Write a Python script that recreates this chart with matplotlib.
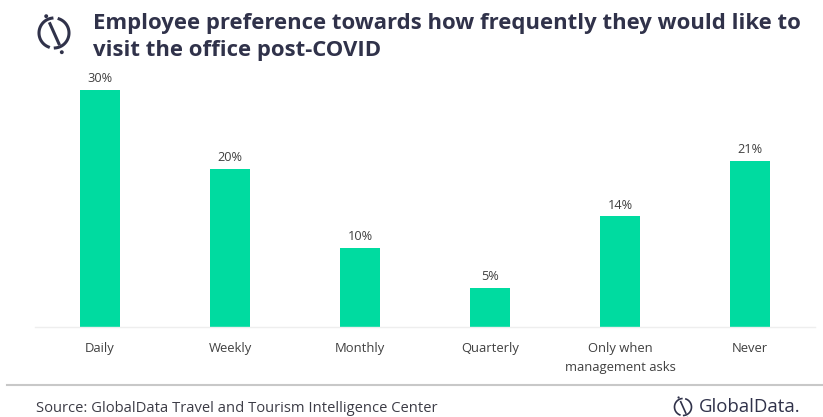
import numpy as np
import matplotlib
matplotlib.use('Agg')
import matplotlib.pyplot as plt
from matplotlib.patches import Circle

categories = ['Daily', 'Weekly', 'Monthly', 'Quarterly', 'Only when\nmanagement asks', 'Never']
values = [30, 20, 10, 5, 14, 21]

W, H = 823, 417
dark = '#30324a'
green = '#00dba0'
plt.rcParams['font.family'] = ['Open Sans', 'DejaVu Sans']

fig = plt.figure(figsize=(W / 100, H / 100), dpi=100)

# overlay in pixel coords for title, rule, footer, logos
bg = fig.add_axes([0, 0, 1, 1])
bg.set_xlim(0, W)
bg.set_ylim(H, 0)
bg.axis('off')


def logo(cx, cy, r, lw):
    # ring in two halves, gaps where the slash passes through
    for a, b in [(-70, 85), (112, 262)]:
        t = np.radians(np.linspace(a, b, 60))
        bg.plot(cx + r * np.cos(t), cy + r * np.sin(t), color=dark, lw=lw)
    bg.plot([cx - 0.27 * r, cx + 0.33 * r], [cy - 0.62 * r, cy + 0.72 * r], color=dark, lw=lw)
    bg.add_patch(Circle((cx - 0.52 * r, cy - 1.12 * r), 0.13 * r, color=dark, lw=0))
    bg.add_patch(Circle((cx + 0.52 * r, cy + 1.28 * r), 0.13 * r, color=dark, lw=0))


logo(54, 33, 15, 2.2)
logo(683, 407, 8.5, 1.2)

bg.text(93, 23, 'Employee preference towards how frequently they would like to',
        fontsize=15.95, fontweight='bold', color=dark, ha='left', va='center')
bg.text(93, 50, 'visit the office post-COVID',
        fontsize=15.95, fontweight='bold', color=dark, ha='left', va='center')

bg.plot([7, W], [385, 385], color='#c8c8c8', lw=1.5)
bg.text(36, 408, 'Source: GlobalData Travel and Tourism Intelligence Center',
        fontsize=10.6, color='#3c3c46', ha='left', va='center')
bg.text(699, 407.5, 'GlobalData.', fontsize=13.4, color=dark, ha='left', va='center')

# bars
ax = fig.add_axes([35 / W, 1 - 327 / H, 780 / W, 237 / H])
ax.patch.set_alpha(0)
x = np.arange(len(categories))
ax.bar(x, values, width=0.315, color=green)
for xi, v in zip(x, values):
    ax.text(xi, v + 0.6, str(v) + '%', ha='center', va='bottom', fontsize=9.2,
            color='#404040', clip_on=False)

ax.set_xlim(-0.5, 5.5)
ax.set_ylim(0, 30)
ax.set_yticks([])
ax.set_xticks(x)
ax.set_xticklabels(categories, fontsize=9.4, color='#404040', linespacing=1.55, va='top')
ax.tick_params(axis='x', length=0, pad=11)
for s in ['top', 'left', 'right']:
    ax.spines[s].set_visible(False)
ax.spines['bottom'].set_color('#eeeeee')
ax.spines['bottom'].set_linewidth(1)

fig.savefig('out.png', dpi=100)
